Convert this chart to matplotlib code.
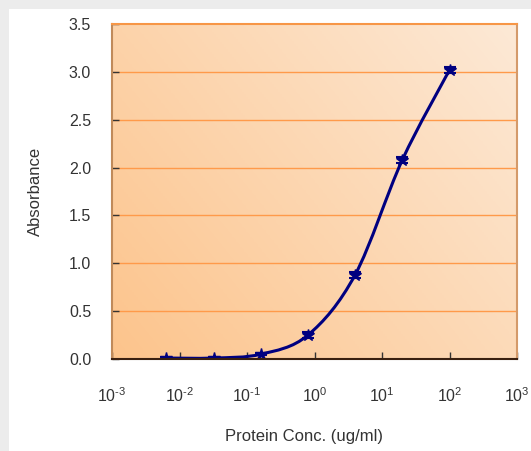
import matplotlib
matplotlib.use('Agg')
import matplotlib.pyplot as plt
from matplotlib.patches import Rectangle, PathPatch
from matplotlib.path import Path
from matplotlib.colors import LinearSegmentedColormap
import numpy as np

plt.rcParams['font.family'] = ['Liberation Sans', 'DejaVu Sans']
plt.rcParams['mathtext.fontset'] = 'custom'
plt.rcParams['mathtext.rm'] = 'Liberation Sans'
plt.rcParams['mathtext.default'] = 'regular'

# данные
conc = [0.0064, 0.032, 0.16, 0.8, 4, 20, 100]
absorb = [0.01, 0.01, 0.05, 0.25, 0.88, 2.08, 3.02]
err = [0.01, 0.01, 0.01, 0.03, 0.03, 0.03, 0.03]
xticks = [1e-3, 1e-2, 1e-1, 1e0, 1e1, 1e2, 1e3]
xticklabels = [r'10$^{\text{-}3}$', r'10$^{\text{-}2}$', r'10$^{\text{-}1}$',
               '10$^{0}$', '10$^{1}$', '10$^{2}$', '10$^{3}$']
yticks = [0.0, 0.5, 1.0, 1.5, 2.0, 2.5, 3.0, 3.5]

W, H = 531, 451
fig = plt.figure(figsize=(W / 100, H / 100), dpi=100)
fig.patch.set_facecolor('#ececec')
fig.patches.append(Rectangle((9 / W, 0), 1 - 9 / W, 1 - 9 / H, transform=fig.transFigure,
                             facecolor='white', edgecolor='none', zorder=-1))

ax = fig.add_axes([112 / W, (H - 359) / H, 405 / W, 335 / H])
ax.set_zorder(1)
ax.set_xscale('log')
ax.set_xlim(1e-3, 1e3)
ax.set_ylim(0, 3.5)

# градиентный фон
cmap = LinearSegmentedColormap.from_list('bg', ['#fcc48c', '#fde9d6'])
gx, gy = np.meshgrid(np.linspace(0, 1, 200), np.linspace(0, 1, 200))
ax.imshow(0.6 * gx + 0.4 * gy, cmap=cmap, extent=[0, 1, 0, 1], origin='lower',
          transform=ax.transAxes, aspect='auto', zorder=0)

for y in yticks[1:-1]:
    ax.axhline(y, color='#ff9a4a', lw=1.0, zorder=1)

# сглаженная линия (Безье по точкам, как в Excel)
lx = np.log10(conc)
ly = np.array(absorb)
pts = list(zip(lx, ly))
verts = [pts[0]]
codes = [Path.MOVETO]
n = len(pts)
for i in range(n - 1):
    p0 = np.array(pts[i - 1] if i > 0 else pts[i])
    p1 = np.array(pts[i])
    p2 = np.array(pts[i + 1])
    p3 = np.array(pts[i + 2] if i + 2 < n else pts[i + 1])
    c1 = p1 + (p2 - p0) / 6
    c2 = p2 - (p3 - p1) / 6
    verts += [tuple(c1), tuple(c2), tuple(p2)]
    codes += [Path.CURVE4] * 3
verts = [(10 ** vx, vy) for vx, vy in verts]
ax.add_patch(PathPatch(Path(verts, codes), facecolor='none', edgecolor='#000080',
                       lw=2.2, zorder=3))

ax.errorbar(conc, absorb, yerr=err, fmt='*', color='#000080', ms=9, capsize=4,
            elinewidth=1.2, capthick=1.5, zorder=4)

ax.set_xticks(xticks)
ax.set_xticklabels(xticklabels)
ax.xaxis.set_minor_locator(matplotlib.ticker.NullLocator())
ax.set_yticks(yticks)
ax.set_yticklabels([f'{v:.1f}' for v in yticks])
ax.tick_params(axis='x', direction='in', length=5, width=1, color='#333333',
               labelsize=11.5, labelcolor='#333333', pad=20)
ax.tick_params(axis='y', direction='in', length=5, width=1, color='#333333',
               labelsize=11.5, labelcolor='#333333', pad=15)

ax.spines['top'].set_color('#f79646')
ax.spines['right'].set_color('#d49a6a')
ax.spines['left'].set_color('#c08a5a')
ax.spines['bottom'].set_color('#3a2010')
for s in ax.spines.values():
    s.set_linewidth(1.5)
    s.set_zorder(5)

fig.text(304 / W, 1 - 437 / H, 'Protein Conc. (ug/ml)', ha='center', va='center',
         fontsize=12, color='#333333')
fig.text(35 / W, 1 - 191 / H, 'Absorbance', ha='center', va='center', rotation=90,
         fontsize=12, color='#333333')

fig.savefig('out.png', dpi=100, facecolor=fig.get_facecolor())
